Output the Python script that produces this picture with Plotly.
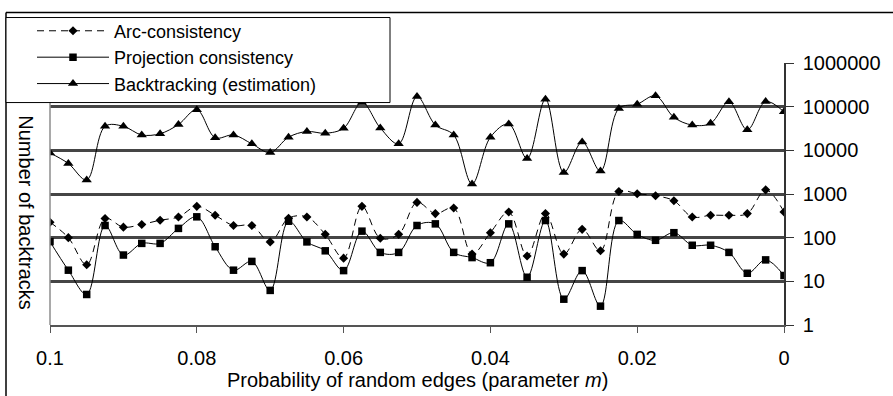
import plotly.graph_objects as go

# x categories: probability of random edges (parameter m)
m_values = [0.1, 0.0975, 0.095, 0.0925, 0.09, 0.0875, 0.085, 0.0825, 0.08, 0.0775,
            0.075, 0.0725, 0.07, 0.0675, 0.065, 0.0625, 0.06, 0.0575, 0.055, 0.0525,
            0.05, 0.0475, 0.045, 0.0425, 0.04, 0.0375, 0.035, 0.0325, 0.03, 0.0275,
            0.025, 0.0225, 0.02, 0.0175, 0.015, 0.0125, 0.01, 0.0075, 0.005, 0.0025, 0.0]

arc_consistency = [226, 100, 24, 274, 174, 201, 251, 298, 521, 326,
                   190, 190, 80, 279, 298, 119, 34, 521, 97, 119,
                   642, 356, 477, 42, 130, 387, 38, 356, 42, 155,
                   50, 1138, 1010, 910, 701, 298, 326, 326, 356, 1245, 387]

projection_consistency = [81, 18, 5.0, 190, 40, 74, 74, 163, 300, 62,
                          18, 28.6, 6.2, 238, 80, 50, 17.6, 141, 46, 46,
                          190, 207, 46, 35, 26.7, 207, 12.4, 247, 3.9, 17.6,
                          2.7, 247, 119, 87, 130, 67, 67, 46, 15.3, 31, 13.6]

backtracking_estimation = [8700, 5000, 2100, 35500, 35500, 22500, 24000, 39000, 85000, 19500,
                           22500, 14100, 8900, 20000, 27000, 24600, 32000, 124000, 32500, 14100,
                           170000, 38000, 22500, 1700, 20000, 40000, 6500, 148000, 3100, 15500,
                           3350, 91000, 114000, 177000, 57000, 38000, 41500, 129000, 29500, 131000, 76000]

x_tick_vals = [0.1, 0.08, 0.06, 0.04, 0.02, 0.0]
x_tick_text = ["0.1", "0.08", "0.06", "0.04", "0.02", "0"]
y_tick_vals = [1, 10, 100, 1000, 10000, 100000, 1000000]
y_tick_text = ["1", "10", "100", "1000", "10000", "100000", "1000000"]

FONT = "Arial, 'Liberation Sans', sans-serif"
FS = 20
LEG_FS = 18

fig = go.Figure()
fig.add_trace(go.Scatter(
    x=m_values, y=arc_consistency, name="Arc-consistency",
    mode="lines+markers",
    line=dict(color="black", width=1, dash="7px,5px", shape="spline", smoothing=1.0),
    marker=dict(symbol="diamond", size=7, color="black"),
))
fig.add_trace(go.Scatter(
    x=m_values, y=projection_consistency, name="Projection consistency",
    mode="lines+markers",
    line=dict(color="black", width=1, shape="spline", smoothing=1.0),
    marker=dict(symbol="square", size=7.5, color="black"),
))
fig.add_trace(go.Scatter(
    x=m_values, y=backtracking_estimation, name="Backtracking (estimation)",
    mode="lines+markers",
    line=dict(color="black", width=1, shape="spline", smoothing=1.0),
    marker=dict(symbol="triangle-up", size=9, color="black"),
))

W, H = 893, 396
L, R, T, B = 50, 784, 60, 325


def px_to_paper_x(px):
    return (px - L) / (R - L)


def px_to_paper_y(py):
    return (B - py) / (B - T)


shapes = [
    # left axis line (grey)
    dict(type="line", xref="paper", yref="paper", x0=0, x1=0, y0=0, y1=1,
         line=dict(color="#8c8c8c", width=1.5)),
    # chart area border (top and left)
    dict(type="line", xref="paper", yref="paper",
         x0=px_to_paper_x(6), x1=px_to_paper_x(W + 5), y0=px_to_paper_y(9), y1=px_to_paper_y(9),
         line=dict(color="black", width=1.5)),
    dict(type="line", xref="paper", yref="paper",
         x0=px_to_paper_x(6), x1=px_to_paper_x(6), y0=px_to_paper_y(9), y1=px_to_paper_y(H + 5),
         line=dict(color="black", width=1.5)),
    # legend box
    dict(type="rect", xref="paper", yref="paper", layer="above",
         x0=px_to_paper_x(6), x1=px_to_paper_x(390), y0=px_to_paper_y(100), y1=px_to_paper_y(14),
         fillcolor="white", line=dict(color="black", width=1)),
]

annotations = [
    dict(text="Number of backtracks", xref="paper", yref="paper",
         x=px_to_paper_x(26), y=px_to_paper_y(211), textangle=90,
         showarrow=False, xanchor="center", yanchor="middle",
         font=dict(family=FONT, size=FS, color="black")),
    dict(text="Probability of random edges (parameter <i>m</i>)", xref="paper", yref="paper",
         x=px_to_paper_x(417), y=px_to_paper_y(381),
         showarrow=False, xanchor="center", yanchor="middle",
         font=dict(family=FONT, size=FS, color="black")),
]

fig.update_layout(
    width=W, height=H,
    margin=dict(l=L, r=W - R, t=T, b=H - B, pad=0),
    paper_bgcolor="white", plot_bgcolor="white",
    font=dict(family=FONT, size=FS, color="black"),
    showlegend=True,
    legend=dict(x=px_to_paper_x(32), y=px_to_paper_y(9), xanchor="left", yanchor="top",
                bgcolor="rgba(0,0,0,0)", borderwidth=0, itemwidth=72,
                font=dict(family=FONT, size=LEG_FS, color="black"), tracegroupgap=0),
    shapes=shapes,
    annotations=annotations,
    xaxis=dict(range=[0.1, 0.0], autorange=False, tickvals=x_tick_vals, ticktext=x_tick_text,
               ticks="outside", ticklen=6, tickcolor="#555", showline=True, linecolor="#555",
               linewidth=1.5, showgrid=False, zeroline=False, ticklabelstandoff=8,
               tickfont=dict(family=FONT, size=FS, color="black")),
    yaxis=dict(type="log", range=[0, 6], autorange=False, side="right",
               tickvals=y_tick_vals, ticktext=y_tick_text,
               ticks="outside", ticklen=8, tickcolor="#333", showline=True, linecolor="#333",
               linewidth=1.5, showgrid=True, gridcolor="#454545", gridwidth=2.5,
               zeroline=False, ticklabelstandoff=5,
               tickfont=dict(family=FONT, size=FS, color="black")),
)

fig.write_html("out.html", config={"displayModeBar": False},
               post_script="document.body.style.margin='0';document.body.style.padding='0';")
